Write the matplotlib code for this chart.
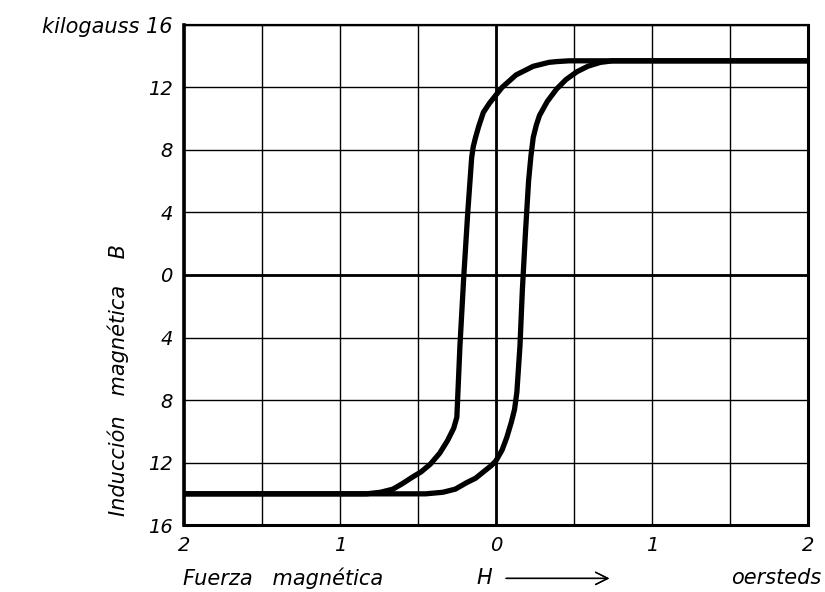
import matplotlib.pyplot as plt

# hysteresis loop (H in oersteds, B in kilogauss)
desc_H = [2.0, 0.60, 0.47, 0.39, 0.34, 0.24, 0.13, 0.04, 0.0, -0.04, -0.08, -0.11,
          -0.13, -0.145, -0.155, -0.18, -0.205, -0.23, -0.25, -0.27, -0.31, -0.36,
          -0.42, -0.48, -0.53, -0.60, -0.66, -0.74, -0.83, -2.0]
desc_B = [13.7, 13.7, 13.7, 13.65, 13.6, 13.35, 12.8, 12.0, 11.5, 11.0, 10.4, 9.5,
          8.8, 8.2, 7.5, 4.0, 0.0, -4.5, -9.1, -9.8, -10.6, -11.4,
          -12.1, -12.6, -12.9, -13.35, -13.7, -13.9, -14.0, -14.0]

asc_H = [-2.0, -0.75, -0.45, -0.34, -0.26, -0.19, -0.13, -0.08, -0.03, 0.0, 0.04,
         0.07, 0.10, 0.12, 0.135, 0.155, 0.17, 0.19, 0.21, 0.225, 0.24, 0.26, 0.28,
         0.33, 0.39, 0.45, 0.52, 0.59, 0.67, 0.75, 2.0]
asc_B = [-14.0, -14.0, -14.0, -13.9, -13.7, -13.3, -13.0, -12.6, -12.2, -11.9, -11.2,
         -10.4, -9.4, -8.6, -7.5, -4.5, -1.0, 2.7, 6.0, 7.6, 8.8, 9.6, 10.2,
         11.1, 11.9, 12.5, 13.0, 13.35, 13.6, 13.7, 13.7]

x_ticks = [-2, -1, 0, 1, 2]
x_labels = ["2", "1", "0", "1", "2"]
y_ticks = [-16, -12, -8, -4, 0, 4, 8, 12, 16]
y_labels = ["16", "12", "8", "4", "0", "4", "8", "12", "kilogauss 16"]

plt.rcParams['font.family'] = ['DejaVu Sans']
fig = plt.figure(figsize=(8.25, 5.92), dpi=100)
ax = fig.add_axes([0.223, 0.113, 0.756, 0.845])

ax.set_xlim(-2, 2)
ax.set_ylim(-16, 16)
ax.set_xticks(x_ticks)
ax.set_xticks([-1.5, -0.5, 0.5, 1.5], minor=True)
ax.set_xticklabels(x_labels, fontsize=14, style='italic')
ax.set_yticks(y_ticks)
ax.set_yticklabels(y_labels, fontsize=14, style='italic')
ax.get_yticklabels()[-1].set_fontsize(15)
ax.tick_params(which='both', length=0, pad=8)
ax.grid(which='both', color='black', linewidth=1.0)
ax.axhline(0, color='black', linewidth=2.0)
ax.axvline(0, color='black', linewidth=2.0)
for side, w in [('left', 2.6), ('bottom', 2.2), ('top', 1.6), ('right', 2.2)]:
    ax.spines[side].set_linewidth(w)

ax.plot(desc_H, desc_B, color='black', linewidth=3.8, solid_joinstyle='round', solid_capstyle='butt')
ax.plot(asc_H, asc_B, color='black', linewidth=3.8, solid_joinstyle='round', solid_capstyle='butt')

fig.text(0.143, 0.358, "Inducción   magnética    B", rotation=90, fontsize=15,
         style='italic', ha='center', va='center')
fig.text(0.222, 0.023, "Fuerza   magnética", fontsize=15, style='italic', ha='left', va='center')
fig.text(0.578, 0.023, "H", fontsize=15, style='italic', ha='left', va='center')
fig.text(0.995, 0.023, "oersteds", fontsize=15, style='italic', ha='right', va='center')
fig.add_artist(plt.annotate("", xy=(0.742, 0.023), xytext=(0.61, 0.023), xycoords='figure fraction',
                            arrowprops=dict(arrowstyle='->', color='black', lw=1.0,
                                            mutation_scale=22)))

fig.savefig("out.png", dpi=100)
